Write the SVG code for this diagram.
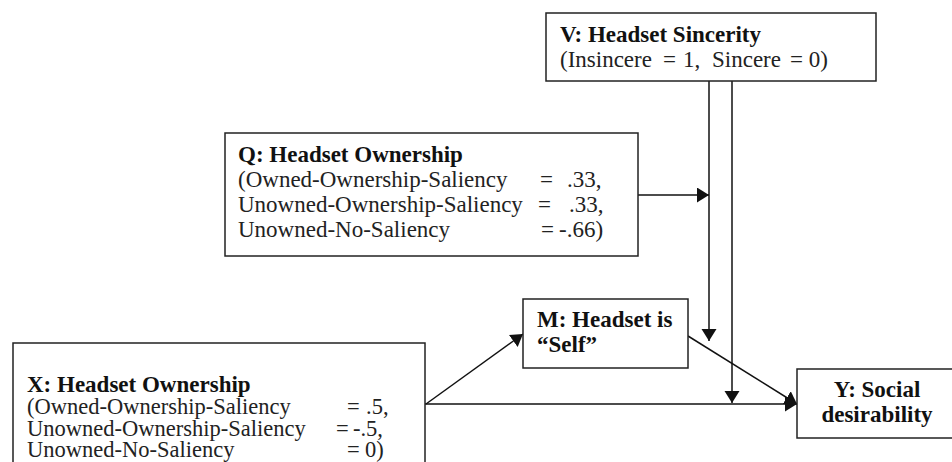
<svg xmlns="http://www.w3.org/2000/svg" width="952" height="462" viewBox="0 0 952 462">
<style>
.box{fill:#fff;stroke:#222;stroke-width:1.5}
.t{font-family:"Liberation Serif","Times New Roman",serif;font-size:23px;fill:#222}
.s{font-size:22.5px}
.b{font-weight:bold;fill:#111}
.c{stroke:#111;stroke-width:1.5;fill:none;marker-end:url(#ah)}
</style>
<defs>
<marker id="ah" markerUnits="userSpaceOnUse" markerWidth="14" markerHeight="16" refX="12" refY="7.5" orient="auto">
<path d="M0,0 L12,7.5 L0,15 z" fill="#111"/>
</marker>
</defs>
<rect width="952" height="462" fill="#fff"/>
<g id="connectors">
<line class="c" x1="709" y1="81" x2="709" y2="341"/>
<line class="c" x1="732" y1="81" x2="732" y2="403"/>
<line class="c" x1="638" y1="195" x2="709" y2="195"/>
<line class="c" x1="426" y1="404" x2="523" y2="334"/>
<line class="c" x1="425" y1="404" x2="797" y2="404"/>
<line class="c" x1="688" y1="336" x2="797" y2="404"/>
</g>
<g id="V">
<rect class="box" x="546" y="13" width="330" height="68"/>
<text class="t b" x="560" y="42">V: Headset Sincerity</text>
<text class="t" y="67"><tspan x="560">(Insincere</tspan><tspan x="663">=</tspan><tspan x="683">1,</tspan><tspan x="712">Sincere</tspan><tspan x="790">= 0)</tspan></text>
</g>
<g id="Q">
<rect class="box" x="225" y="133" width="413" height="123"/>
<text class="t b" x="238" y="162">Q: Headset Ownership</text>
<text class="t" x="238" y="187">(Owned-Ownership-Saliency</text>
<text class="t" x="540" y="187">=</text>
<text class="t" x="567" y="187">.33,</text>
<text class="t" x="238" y="212">Unowned-Ownership-Saliency</text>
<text class="t" x="538" y="212">=</text>
<text class="t" x="569" y="212">.33,</text>
<text class="t" x="238" y="237">Unowned-No-Saliency</text>
<text class="t" x="541" y="237">=</text>
<text class="t" x="559" y="237">-.66)</text>
</g>
<g id="X">
<rect class="box" x="13" y="343" width="412" height="130"/>
<text class="t b" x="27" y="392">X: Headset Ownership</text>
<text class="t s" x="27" y="414">(Owned-Ownership-Saliency</text>
<text class="t s" x="347" y="414">=</text>
<text class="t s" x="366" y="414">.5,</text>
<text class="t s" x="27" y="436">Unowned-Ownership-Saliency</text>
<text class="t s" x="336" y="436">=</text>
<text class="t s" x="353" y="436">-.5,</text>
<text class="t s" x="27" y="457">Unowned-No-Saliency</text>
<text class="t s" x="347" y="457">=</text>
<text class="t s" x="365" y="457">0)</text>
</g>
<g id="M">
<rect class="box" x="523" y="299" width="165" height="69"/>
<text class="t b" x="537" y="327">M: Headset is</text>
<text class="t b" x="537" y="352">“Self”</text>
</g>
<g id="Y">
<rect class="box" x="797" y="369" width="170" height="69"/>
<text class="t b" x="877" y="397" text-anchor="middle">Y: Social</text>
<text class="t b" x="877" y="422" text-anchor="middle">desirability</text>
</g>
</svg>
